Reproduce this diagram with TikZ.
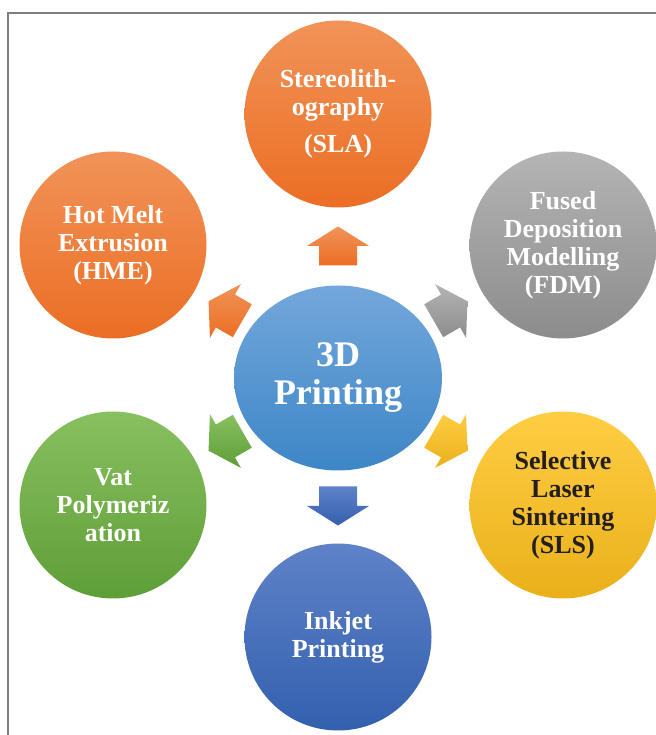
\documentclass[tikz,border=0pt]{standalone}
\usepackage{fontspec}
\setmainfont{Liberation Serif}
\usetikzlibrary{shapes.geometric,calc}
\definecolor{oraT}{HTML}{F19358}
\definecolor{oraB}{HTML}{EB6E24}
\definecolor{gryT}{HTML}{B4B4B4}
\definecolor{gryB}{HTML}{8C8C8C}
\definecolor{ylwT}{HTML}{FFCD44}
\definecolor{ylwB}{HTML}{E9B01A}
\definecolor{bluT}{HTML}{5F82C8}
\definecolor{bluB}{HTML}{3360AE}
\definecolor{grnT}{HTML}{88C060}
\definecolor{grnB}{HTML}{5E9E37}
\definecolor{cenT}{HTML}{73A7DB}
\definecolor{cenB}{HTML}{3D86C7}
\definecolor{frameC}{HTML}{7F7F7F}
\definecolor{darkT}{HTML}{231F20}
\begin{document}
\begin{tikzpicture}[x=1pt,y=1pt,
  bubble/.style={circle, minimum size=187pt, inner sep=0pt, align=center,
    text=white, font=\bfseries\fontsize{26}{28}\selectfont},
  hub/.style={ellipse, minimum width=208pt, minimum height=185pt, inner sep=0pt,
    align=center, text=white, font=\bfseries\fontsize{36}{38}\selectfont},
  framestyle/.style={draw=frameC, line width=1.2pt}
]
\useasboundingbox (0,0) rectangle (655,735);
\draw[framestyle] (8,-2) -- (8,722) -- (657,722);

\node[hub, top color=cenT, bottom color=cenB] (c) at (338,357) {3D\\Printing};

\node[bubble, top color=oraT, bottom color=oraB] (sla) at (338,621) {Stereolith-\\ography\\[9pt](SLA)};
\node[bubble, top color=oraT, bottom color=oraB] (hme) at (113,490) {Hot Melt\\Extrusion\\(HME)};
\node[bubble, top color=gryT, bottom color=gryB] (fdm) at (563,490) {Fused\\Deposition\\Modelling\\(FDM)};
\node[bubble, top color=ylwT, bottom color=ylwB, text=darkT] (sls) at (563,230) {Selective\\Laser\\Sintering\\(SLS)};
\node[bubble, top color=bluT, bottom color=bluB] (ink) at (338,98) {Inkjet\\Printing};
\node[bubble, top color=grnT, bottom color=grnB] (vat) at (113,230) {Vat\\Polymeriz\\ation};

\coordinate (hc) at (338,359);
\foreach \a/\ct/\cb in {90/oraT/oraB, 150/oraT/oraB, 30/gryT/gryB, -30/ylwT/ylwB, -90/bluT/bluB, 210/grnT/grnB}{
  \begin{scope}[shift={($(hc)+(\a:130pt)$)}, rotate=\a]
    \shade[top color=\ct, bottom color=\cb]
      (-19.5,-19) -- (0,-19) -- (0,-31) -- (19.5,0) -- (0,31) -- (0,19) -- (-19.5,19) -- cycle;
  \end{scope}
}
\end{tikzpicture}
\end{document}
